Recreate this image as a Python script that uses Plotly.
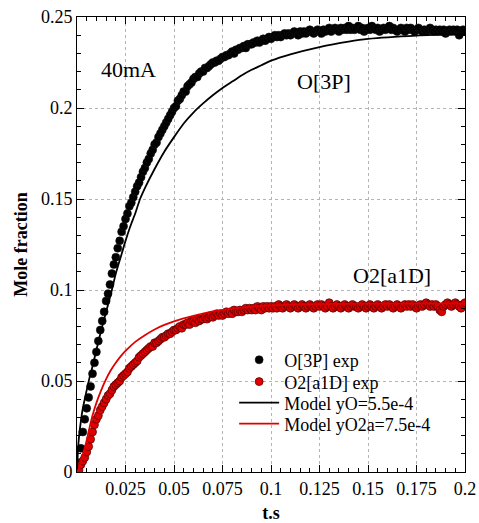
import numpy as np
import plotly.graph_objects as go

# Sampling times of the measured traces (s)
t_exp = np.round(np.arange(0, 0.2005, 0.001), 3)

# Measured O[3P] mole fraction, one value per millisecond
o3p_exp = [
    0.001, 0.005, 0.013, 0.022, 0.029, 0.035, 0.041, 0.047, 0.054, 0.060,
    0.066, 0.072, 0.078, 0.083, 0.088, 0.094, 0.098, 0.103, 0.109, 0.114,
    0.118, 0.123, 0.127, 0.132, 0.135, 0.139, 0.142, 0.146, 0.148, 0.151,
    0.154, 0.157, 0.159, 0.162, 0.165, 0.167, 0.170, 0.172, 0.175, 0.177,
    0.180, 0.181, 0.184, 0.186, 0.188, 0.190, 0.192, 0.194, 0.196, 0.198,
    0.200, 0.201, 0.204, 0.205, 0.207, 0.209, 0.209, 0.212, 0.213, 0.214,
    0.216, 0.217, 0.217, 0.219, 0.220, 0.220, 0.222, 0.222, 0.223, 0.224,
    0.225, 0.225, 0.226, 0.226, 0.227, 0.228, 0.228, 0.229, 0.229, 0.230,
    0.231, 0.230, 0.232, 0.232, 0.233, 0.233, 0.234, 0.233, 0.235, 0.235,
    0.235, 0.236, 0.236, 0.237, 0.236, 0.237, 0.238, 0.237, 0.238, 0.239,
    0.238, 0.239, 0.240, 0.239, 0.240, 0.239, 0.240, 0.241, 0.240, 0.241,
    0.240, 0.241, 0.242, 0.241, 0.240, 0.242, 0.241, 0.242, 0.241, 0.242,
    0.243, 0.242, 0.241, 0.242, 0.243, 0.242, 0.241, 0.243, 0.242, 0.243,
    0.244, 0.242, 0.243, 0.244, 0.243, 0.242, 0.244, 0.243, 0.244, 0.243,
    0.245, 0.243, 0.244, 0.243, 0.244, 0.245, 0.243, 0.244, 0.242, 0.243,
    0.244, 0.243, 0.245, 0.244, 0.243, 0.244, 0.242, 0.243, 0.244, 0.243,
    0.244, 0.245, 0.243, 0.244, 0.243, 0.242, 0.243, 0.244, 0.243, 0.242,
    0.244, 0.243, 0.244, 0.243, 0.242, 0.243, 0.244, 0.243, 0.242, 0.243,
    0.242, 0.243, 0.244, 0.243, 0.242, 0.243, 0.242, 0.243, 0.242, 0.243,
    0.241, 0.242, 0.243, 0.242, 0.243, 0.242, 0.243, 0.240, 0.242, 0.243,
    0.242,
]

# Measured O2[a1D] mole fraction, one value per millisecond
o2a_exp = [
    0.000, 0.001, 0.004, 0.006, 0.008, 0.011, 0.014, 0.018, 0.022, 0.026,
    0.029, 0.031, 0.034, 0.036, 0.038, 0.040, 0.042, 0.043, 0.045, 0.047,
    0.048, 0.049, 0.050, 0.052, 0.053, 0.054, 0.055, 0.057, 0.058, 0.059,
    0.060, 0.061, 0.063, 0.064, 0.065, 0.066, 0.067, 0.068, 0.069, 0.069,
    0.071, 0.071, 0.072, 0.073, 0.074, 0.074, 0.075, 0.076, 0.076, 0.077,
    0.078, 0.078, 0.079, 0.080, 0.079, 0.081, 0.081, 0.082, 0.081, 0.083,
    0.083, 0.082, 0.084, 0.083, 0.084, 0.084, 0.085, 0.084, 0.085, 0.086,
    0.085, 0.086, 0.087, 0.086, 0.087, 0.086, 0.087, 0.088, 0.087, 0.088,
    0.087, 0.089, 0.088, 0.088, 0.089, 0.088, 0.089, 0.090, 0.089, 0.090,
    0.089, 0.090, 0.089, 0.091, 0.090, 0.089, 0.091, 0.090, 0.091, 0.090,
    0.091, 0.090, 0.091, 0.090, 0.092, 0.091, 0.090, 0.091, 0.092, 0.091,
    0.090, 0.091, 0.092, 0.091, 0.090, 0.091, 0.092, 0.091, 0.090, 0.091,
    0.092, 0.091, 0.090, 0.091, 0.092, 0.091, 0.092, 0.091, 0.090, 0.091,
    0.093, 0.091, 0.090, 0.091, 0.092, 0.091, 0.090, 0.091, 0.092, 0.091,
    0.090, 0.091, 0.092, 0.091, 0.091, 0.090, 0.091, 0.092, 0.091, 0.090,
    0.091, 0.092, 0.091, 0.090, 0.091, 0.092, 0.091, 0.090, 0.091, 0.092,
    0.091, 0.092, 0.091, 0.090, 0.091, 0.092, 0.091, 0.090, 0.091, 0.092,
    0.091, 0.092, 0.091, 0.092, 0.091, 0.090, 0.091, 0.092, 0.091, 0.092,
    0.093, 0.092, 0.091, 0.092, 0.091, 0.092, 0.091, 0.089, 0.088, 0.091,
    0.092, 0.093, 0.092, 0.091, 0.092, 0.093, 0.092, 0.091, 0.090, 0.092,
    0.093,
]

# Model curves
t_model_o = [0, 0.0005, 0.001, 0.002, 0.003, 0.004, 0.005, 0.0065, 0.008, 0.010,
             0.0125, 0.015, 0.0175, 0.020, 0.0225, 0.025, 0.0275, 0.030, 0.0325,
             0.035, 0.040, 0.045, 0.050, 0.055, 0.060, 0.065, 0.070, 0.075, 0.080,
             0.085, 0.090, 0.095, 0.100, 0.110, 0.125, 0.140, 0.150, 0.175, 0.200]
o3p_model = [0.0, 0.012, 0.019, 0.028, 0.035, 0.040, 0.045, 0.052, 0.058, 0.067,
             0.078, 0.088, 0.098, 0.109, 0.118, 0.127, 0.135, 0.142, 0.150,
             0.156, 0.1665, 0.176, 0.184, 0.1915, 0.1975, 0.2025, 0.207, 0.211, 0.2145,
             0.218, 0.221, 0.2235, 0.226, 0.2295, 0.2335, 0.2365, 0.238, 0.2398, 0.2407]

t_model_o2a = [0, 0.001, 0.002, 0.003, 0.004, 0.005, 0.0065, 0.008, 0.010, 0.0125,
               0.015, 0.0175, 0.020, 0.0225, 0.025, 0.030, 0.035, 0.040, 0.045,
               0.050, 0.060, 0.070, 0.080, 0.090, 0.100, 0.120, 0.150, 0.200]
o2a_model = [0.0, 0.002, 0.006, 0.0095, 0.013, 0.0175, 0.0245, 0.031, 0.038, 0.045,
             0.051, 0.056, 0.060, 0.0635, 0.0665, 0.0715, 0.0752, 0.0783, 0.0808,
             0.0828, 0.0858, 0.0882, 0.0898, 0.0909, 0.0916, 0.0922, 0.0925, 0.0926]

x_ticks = [0.025, 0.05, 0.075, 0.1, 0.125, 0.15, 0.175, 0.2]
x_labels = ["0.025", "0.05", "0.075", "0.1", "0.125", "0.15", "0.175", "0.2"]
y_ticks = [0, 0.05, 0.1, 0.15, 0.2, 0.25]
y_labels = ["0", "0.05", "0.1", "0.15", "0.2", "0.25"]

SERIF = "Liberation Serif"

fig = go.Figure()
# each entry gets its own legend box so the rows can sit closely together
fig.add_trace(go.Scatter(
    x=t_exp, y=o3p_exp, mode="markers", name="O[3P] exp", legend="legend",
    showlegend=True,
    marker=dict(size=8, color="black", line=dict(color="#111111", width=0.6)),
))
fig.add_trace(go.Scatter(
    x=t_exp, y=o2a_exp, mode="markers", name="O2[a1D] exp", legend="legend2",
    showlegend=True,
    marker=dict(size=8, color="#e00000", line=dict(color="#4a0000", width=0.7)),
))
fig.add_trace(go.Scatter(
    x=t_model_o, y=o3p_model, mode="lines", name="Model yO=5.5e-4", legend="legend3",
    showlegend=True,
    line=dict(color="black", width=1.8, shape="spline", smoothing=0.6),
))
fig.add_trace(go.Scatter(
    x=t_model_o2a, y=o2a_model, mode="lines", name="Model yO2a=7.5e-4", legend="legend4",
    showlegend=True,
    line=dict(color="#e00000", width=1.8, shape="spline", smoothing=0.6),
))

axis_common = dict(
    showline=True, linecolor="black", linewidth=1, mirror="ticks",
    ticks="inside", ticklen=7, tickcolor="black", tickwidth=1,
    showgrid=True, gridcolor="#b4b4b4", griddash="dot", gridwidth=1,
    zeroline=False, automargin=False,
    tickfont=dict(family=SERIF, size=18, color="black"),
)

fig.update_xaxes(
    range=[0, 0.2], tickmode="array", tickvals=x_ticks, ticktext=x_labels,
    minor=dict(tickmode="linear", tick0=0, dtick=0.005, ticks="inside",
               ticklen=4, tickcolor="black", showgrid=False),
    title=dict(text="<b>t.s</b>", font=dict(family=SERIF, size=18, color="black"),
               standoff=12),
    **axis_common,
)
fig.update_yaxes(
    range=[0, 0.25], tickmode="array", tickvals=y_ticks, ticktext=y_labels,
    minor=dict(tickmode="linear", tick0=0, dtick=0.01, ticks="inside",
               ticklen=4, tickcolor="black", showgrid=False),
    title=dict(text="<b>Mole fraction</b>", font=dict(family=SERIF, size=18, color="black"),
               standoff=8),
    **axis_common,
)

label_font = dict(family=SERIF, size=22, color="black")
for text, x, y in [("40mA", 0.0264, 0.2214), ("O[3P]", 0.1274, 0.2143),
                   ("O2[a1D]", 0.1623, 0.108)]:
    fig.add_annotation(x=x, y=y, text=text, showarrow=False, font=label_font,
                       xanchor="center", yanchor="middle")

legend_style = dict(
    x=0.405, xanchor="left", yanchor="middle",
    bgcolor="rgba(0,0,0,0)", borderwidth=0,
    font=dict(family=SERIF, size=18, color="black"),
    itemwidth=40,
)

fig.update_layout(
    width=479, height=523,
    margin=dict(l=77, r=14, t=17, b=51),
    paper_bgcolor="white", plot_bgcolor="white",
    font=dict(family=SERIF, color="black"),
    showlegend=True,
    legend=dict(y=0.246, **legend_style),
    legend2=dict(y=0.198, **legend_style),
    legend3=dict(y=0.152, **legend_style),
    legend4=dict(y=0.1055, **legend_style),
)

fig.write_html("out.html")
